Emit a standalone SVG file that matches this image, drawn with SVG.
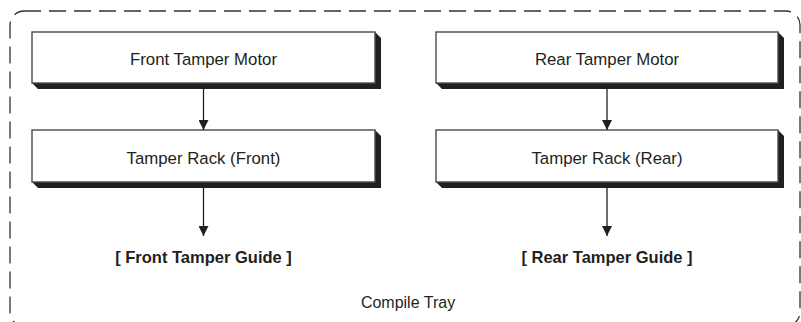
<svg xmlns="http://www.w3.org/2000/svg" width="801" height="322" viewBox="0 0 801 322">
<style>
.box{fill:#fff;stroke:#4a4a4a;stroke-width:1.4}
.shadow{fill:#231f20}
.lbl{font-family:"Liberation Sans",Arial,sans-serif;font-size:16.8px;fill:#231f20;text-anchor:middle}
.guide{font-family:"Liberation Sans",Arial,sans-serif;font-size:16.5px;font-weight:bold;fill:#231f20;text-anchor:middle}
.conn{stroke:#231f20;stroke-width:1.3;fill:none}
</style>
<defs>
<marker id="ah" viewBox="0 0 10 10" refX="10" refY="5" markerWidth="10" markerHeight="10" markerUnits="userSpaceOnUse" orient="auto">
<path d="M0,0 L10,5 L0,10 z" fill="#231f20"/>
</marker>
</defs>
<g id="compile-tray">
<rect x="10" y="11" width="790" height="315" rx="14" ry="14" fill="none" stroke="#333" stroke-width="1.3" stroke-dasharray="17 8"/>
<text class="lbl" x="408" y="308" style="font-size:16px">Compile Tray</text>
</g>
<g id="front-tamper-motor">
<polygon class="shadow" points="375,32 381,38 381,89 38,89 32,83"/>
<rect class="box" x="32" y="32" width="343" height="51"/>
<text class="lbl" x="203.5" y="65">Front Tamper Motor</text>
</g>
<g id="rear-tamper-motor">
<polygon class="shadow" points="778,32 784,38 784,89 442,89 436,83"/>
<rect class="box" x="436" y="32" width="342" height="51"/>
<text class="lbl" x="607" y="65">Rear Tamper Motor</text>
</g>
<g id="tamper-rack-front">
<polygon class="shadow" points="375,130 381,136 381,188 38,188 32,182"/>
<rect class="box" x="32" y="130" width="343" height="52"/>
<text class="lbl" x="203.5" y="164">Tamper Rack (Front)</text>
</g>
<g id="tamper-rack-rear">
<polygon class="shadow" points="778,130 784,136 784,188 442,188 436,182"/>
<rect class="box" x="436" y="130" width="342" height="52"/>
<text class="lbl" x="607" y="164">Tamper Rack (Rear)</text>
</g>
<g id="front-tamper-guide">
<text class="guide" x="203.5" y="263">[ Front Tamper Guide ]</text>
</g>
<g id="rear-tamper-guide">
<text class="guide" x="607" y="263">[ Rear Tamper Guide ]</text>
</g>
<g id="connectors">
<line class="conn" x1="203.5" y1="89" x2="203.5" y2="130" marker-end="url(#ah)"/>
<line class="conn" x1="607" y1="89" x2="607" y2="130" marker-end="url(#ah)"/>
<line class="conn" x1="203.5" y1="188" x2="203.5" y2="236" marker-end="url(#ah)"/>
<line class="conn" x1="607" y1="188" x2="607" y2="236" marker-end="url(#ah)"/>
</g>
</svg>
